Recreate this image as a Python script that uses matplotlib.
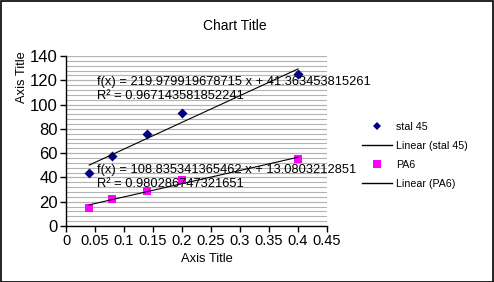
import numpy as np
import matplotlib
matplotlib.use("Agg")
import matplotlib.pyplot as plt
from matplotlib.lines import Line2D

plt.rcParams['font.family'] = ['Liberation Sans', 'DejaVu Sans']

# Data
x_vals = [0.04, 0.08, 0.14, 0.20, 0.40]
stal45 = [44, 58, 76, 93, 125]
pa6 = [15, 22, 29, 38, 55]
series_names = ["stal 45", "PA6"]
x_ticks = [0, 0.05, 0.10, 0.15, 0.20, 0.25, 0.30, 0.35, 0.40, 0.45]
x_tick_labels = ["0", "0.05", "0.1", "0.15", "0.2", "0.25", "0.3", "0.35", "0.4", "0.45"]
y_ticks = [0, 20, 40, 60, 80, 100, 120, 140]
eq_stal = "f(x) = 219.979919678715 x + 41.363453815261\nR² = 0.967143581852241"
eq_pa6 = "f(x) = 108.835341365462 x + 13.0803212851\nR² = 0.980286747321651"

W, H = 494, 282
fig = plt.figure(figsize=(W / 100, H / 100), dpi=100)
ax = fig.add_axes([66 / W, 1 - 226 / H, (327 - 66) / W, (226 - 56) / H])

# minor gridlines every 4
for yv in np.arange(0, 141, 4):
    ax.axhline(yv, color='#b3b3b3', lw=0.8, zorder=0)
for yv in y_ticks:
    ax.axhline(yv, color='#b3b3b3', lw=0.8, zorder=0)

xs = np.array(x_vals)
ax.scatter(xs, stal45, marker='D', s=26, color='#000080', zorder=3, linewidths=0)
ax.scatter(xs, pa6, marker='s', s=40, color='#ff00ff', zorder=3, linewidths=0)

xl = np.array([xs.min(), xs.max()])
for ys in (stal45, pa6):
    m, b = np.polyfit(xs, ys, 1)
    ax.plot(xl, m * xl + b, color='black', lw=0.8, zorder=4)

ax.set_xlim(0, 0.45)
ax.set_ylim(0, 140)
ax.set_xticks(x_ticks)
ax.set_xticklabels(x_tick_labels, fontsize=10.5, family=['Liberation Sans Narrow', 'Liberation Sans'])
ax.set_yticks(y_ticks)
ax.set_yticklabels([str(v) for v in y_ticks], fontsize=12)
for s in ('top', 'right'):
    ax.spines[s].set_visible(False)
for s in ('left', 'bottom'):
    ax.spines[s].set_linewidth(1.0)
ax.tick_params(axis='both', direction='out', length=4, width=1, colors='black', pad=2)
ax.set_facecolor('white')

fig.text(96.5 / W, 1 - 89 / H, eq_stal, fontsize=9.25, va='center', ha='left', linespacing=1.22)
fig.text(96.5 / W, 1 - 177 / H, eq_pa6, fontsize=9.25, va='center', ha='left', linespacing=1.22)

fig.text(234.5 / W, 1 - 26 / H, "Chart Title", fontsize=10, ha='center', va='center')
fig.text(207 / W, 1 - 259 / H, "Axis Title", fontsize=9.3, ha='center', va='center')
fig.text(22 / W, 1 - 77 / H, "Axis Title", fontsize=9.3, ha='center', va='center', rotation=90)

handles = [
    Line2D([], [], ls='none', marker='D', markersize=4.5, color='#000080', markeredgewidth=0),
    Line2D([], [], color='black', lw=1),
    Line2D([], [], ls='none', marker='s', markersize=6, color='#ff00ff', markeredgewidth=0),
    Line2D([], [], color='black', lw=1),
]
labels = [series_names[0], "Linear (" + series_names[0] + ")", series_names[1], "Linear (" + series_names[1] + ")"]
fig.legend(handles, labels, loc='upper left', bbox_to_anchor=(362 / W, 1 - 121.5 / H),
           frameon=False, fontsize=7.7, handlelength=2.8, handletextpad=0.37,
           labelspacing=0.85, borderpad=0, borderaxespad=0)

fig.patches.append(plt.Rectangle((0.5 / W, 0.5 / H), 1 - 1.5 / W, 1 - 1.5 / H, transform=fig.transFigure,
                                 fill=False, edgecolor='black', lw=1.2))

fig.savefig("out.png", dpi=100, facecolor='white')
